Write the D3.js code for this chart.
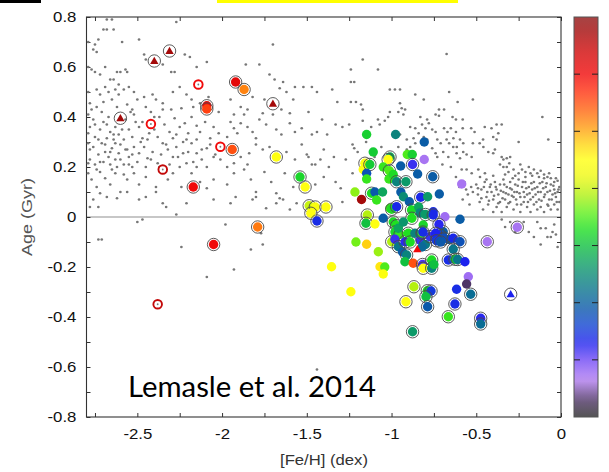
<!DOCTYPE html>
<html>
<head>
<meta charset="utf-8">
<script src="https://cdn.jsdelivr.net/npm/d3@7"></script>
<style>
  body { margin: 0; background: #fff; }
  svg { display: block; }
</style>
</head>
<body>
<svg id="chart" width="609" height="472"></svg>
<script>
// Background field sample: [Fe/H], age
const fieldPoints = [
  [-2.68,0.79],[-2.65,0.79],[-2.27,0.78],[-2.70,0.75],[-2.68,0.75],[-2.64,0.75],[-2.49,0.71],[-2.79,0.70],[-2.59,0.70],[-2.73,0.71],
  [-2.75,0.69],[-2.76,0.67],[-2.74,0.66],[-2.46,0.65],[-2.45,0.63],[-1.86,0.61],[-2.35,0.61],[-1.78,0.61],[-2.79,0.60],[-2.69,0.60],
  [-2.15,0.60],[-2.09,0.62],[-2.77,0.59],[-2.75,0.58],[-2.62,0.58],[-2.60,0.58],[-2.57,0.59],[-2.56,0.58],[-2.30,0.58],[-2.28,0.58],
  [-2.22,0.65],[-2.19,0.64],[-1.70,0.69],[-1.72,0.57],[-1.69,0.55],[-1.64,0.54],[-1.57,0.52],[-2.72,0.57],[-2.66,0.55],[-2.64,0.55],[-2.61,0.53],
  [-2.79,0.50],[-2.74,0.51],[-2.72,0.49],[-2.69,0.52],[-2.67,0.50],[-2.63,0.51],[-2.61,0.49],[-2.58,0.51],[-2.55,0.52],[-2.52,0.50],
  [-2.50,0.47],[-2.46,0.48],[-2.41,0.49],[-2.39,0.47],[-2.35,0.455],[-2.29,0.50],[-2.25,0.52],[-2.21,0.49],[-2.18,0.47],[-2.13,0.455],
  [-2.08,0.48],[-1.95,0.47],[-1.89,0.44],[-1.85,0.43],[-1.82,0.48],[-1.75,0.47],[-1.66,0.515],[-1.62,0.50],[-1.58,0.47],[-2.78,0.455],
  [-2.74,0.44],[-2.70,0.46],[-2.65,0.47],[-2.56,0.45],[-2.53,0.43],[-2.45,0.44],[-2.42,0.42],[-2.35,0.43],[-2.30,0.43],[-2.24,0.435],
  [-2.17,0.44],[-2.10,0.43],[-2.02,0.42],[-1.93,0.41],[-1.87,0.41],[-1.76,0.415],[-1.70,0.41],[-1.65,0.43],[-1.60,0.415],
  [-2.79,0.41],[-2.78,0.36],[-2.76,0.39],[-2.72,0.35],[-2.70,0.38],[-2.67,0.40],[-2.66,0.34],[-2.63,0.36],[-2.61,0.33],[-2.57,0.39],
  [-2.55,0.35],[-2.53,0.32],[-2.52,0.41],[-2.49,0.36],[-2.47,0.38],[-2.43,0.335],[-2.40,0.35],[-2.37,0.40],[-2.34,0.37],[-2.31,0.34],
  [-2.28,0.395],[-2.25,0.36],[-2.22,0.375],[-2.20,0.335],[-2.18,0.40],[-2.15,0.365],[-2.13,0.34],[-2.05,0.36],[-2.02,0.335],[-1.95,0.38],
  [-1.93,0.355],[-1.91,0.335],[-1.89,0.375],[-1.85,0.36],[-1.82,0.34],[-1.78,0.39],[-1.74,0.37],[-1.68,0.35],[-1.65,0.33],[-1.60,0.375],
  [-1.57,0.34],[-2.79,0.335],[-2.75,0.32],[-2.68,0.315],[-2.64,0.31],[-2.58,0.31],[-2.47,0.315],[-2.29,0.315],[-2.21,0.31],[-2.07,0.315],
  [-1.97,0.32],[-1.80,0.315],
  [-2.79,0.295],[-2.78,0.27],[-2.76,0.28],[-2.73,0.25],[-2.71,0.295],[-2.69,0.26],[-2.67,0.24],[-2.65,0.275],[-2.63,0.295],[-2.61,0.255],
  [-2.60,0.23],[-2.57,0.27],[-2.55,0.24],[-2.52,0.28],[-2.50,0.22],[-2.49,0.255],[-2.46,0.28],[-2.44,0.235],[-2.41,0.26],[-2.38,0.215],
  [-2.35,0.295],[-2.32,0.27],[-2.29,0.24],[-2.27,0.28],[-2.23,0.255],[-2.21,0.215],[-2.18,0.295],[-2.15,0.255],[-2.12,0.23],[-2.09,0.275],
  [-2.05,0.24],[-2.01,0.23],[-1.93,0.215],[-1.89,0.24],[-1.84,0.255],[-1.80,0.29],[-1.76,0.27],[-1.72,0.28],[-1.66,0.24],[-1.62,0.26],
  [-1.57,0.23],[-2.79,0.215],[-2.75,0.21],[-2.72,0.22],[-2.66,0.21],[-2.62,0.20],[-2.58,0.21],[-2.53,0.20],[-2.45,0.20],[-2.37,0.20],
  [-2.25,0.20],[-2.15,0.20],[-2.09,0.20],[-1.97,0.20],[-1.85,0.21],
  [-2.79,0.175],[-2.77,0.15],[-2.74,0.12],[-2.72,0.18],[-2.69,0.155],[-2.66,0.13],[-2.63,0.175],[-2.60,0.10],[-2.56,0.15],[-2.52,0.175],
  [-2.49,0.13],[-2.45,0.16],[-2.39,0.12],[-2.32,0.15],[-2.29,0.175],[-2.24,0.12],[-2.18,0.175],[-2.13,0.14],[-2.05,0.15],[-1.97,0.13],
  [-1.93,0.175],[-1.87,0.19],[-1.83,0.15],[-1.80,0.10],[-1.75,0.18],[-1.71,0.14],[-1.68,0.095],[-1.63,0.175],[-1.58,0.12],[-2.72,0.095],
  [-2.56,0.10],[-2.68,0.08],[-2.39,0.10],[-2.35,0.055],[-2.33,0.04],[-2.09,0.115],[-2.05,0.07],[-1.82,0.07],[-1.68,0.055],[-1.66,0.075],
  [-2.78,0.04],[-2.76,0.07],[-2.73,0.04],[-2.62,0.075],[-2.49,0.07],[-2.45,0.08],[-2.27,0.01],[-2.21,0.055],[-1.95,0.055],[-1.92,0.08],
  [-1.80,0.08],[-1.74,0.035],[-1.64,0.07],[-1.60,0.03],[-1.56,0.055],
  [-2.77,0.43],[-2.75,0.37],[-2.73,0.31],[-2.71,0.42],[-2.69,0.29],[-2.68,0.37],[-2.66,0.26],[-2.64,0.33],[-2.62,0.44],[-2.60,0.29],
  [-2.59,0.35],[-2.56,0.27],[-2.54,0.42],[-2.53,0.25],[-2.51,0.38],[-2.48,0.30],[-2.78,0.23],[-2.74,0.19],[-2.70,0.22],[-2.65,0.19],
  [-2.63,0.23],[-2.58,0.17],[-2.55,0.21],[-2.44,0.31],[-2.42,0.23],[-2.40,0.40],[-2.38,0.32],[-2.36,0.25],[-2.33,0.29],[-2.31,0.21],
  [-2.27,0.33],[-2.26,0.24],[-2.23,0.30],[-2.20,0.26],[-2.17,0.22],[-2.15,0.31],[-2.12,0.27],[-2.10,0.38],[-2.07,0.29],[-2.04,0.25],
  [-2.50,-0.02],[-2.47,-0.01],[-1.98,-0.03],[-2.73,-0.09],[-2.71,-0.09],[-2.24,-0.12],[-1.83,-0.13],[-1.76,-0.11],[-1.93,-0.21],[-2.09,-0.24],
  [-1.77,-0.065],[-1.44,-0.61],
  [-0.675,0.652],[-1.17,0.63],[-1.24,0.59],[-1.08,0.59],[-1.24,0.54],[-1.22,0.54],[-1.52,0.52],[-1.47,0.52],[-1.44,0.50],[-1.35,0.51],
  [-1.01,0.51],[-0.98,0.51],[-0.95,0.51],[-0.66,0.50],[-0.86,0.49],[-1.32,0.46],[-1.24,0.46],[-1.21,0.46],[-1.18,0.45],[-0.95,0.455],
  [-0.94,0.435],[-0.81,0.47],[-0.52,0.47],[-0.61,0.46],[-0.72,0.43],[-0.69,0.43],[-1.49,0.42],[-1.01,0.42],[-0.96,0.42],[-0.92,0.43],
  [-0.93,0.41],[-1.17,0.43],[-0.74,0.41],[-0.72,0.405],[-0.64,0.40],[-0.62,0.39],[-0.58,0.39],[-0.83,0.40],[-0.79,0.39],[-0.11,0.40],
  [-1.02,0.40],[-1.04,0.385],[-1.08,0.39],[-1.41,0.39],[-1.17,0.385],[-1.33,0.37],[-1.29,0.36],[-1.25,0.37],[-1.12,0.36],[-1.07,0.37],
  [-0.89,0.36],[-0.86,0.355],[-0.82,0.37],[-0.80,0.355],[-0.76,0.35],[-0.74,0.34],[-0.78,0.375],[-0.69,0.355],[-0.67,0.34],[-0.65,0.355],
  [-0.62,0.34],[-0.58,0.355],[-0.53,0.355],[-0.51,0.34],[-0.45,0.36],[-0.41,0.355],[-0.38,0.37],[-0.35,0.37],[-1.53,0.355],[-1.47,0.33],
  [-1.44,0.34],[-1.38,0.33],[-0.95,0.33],[-0.91,0.31],[-0.87,0.315],[-0.86,0.295],[-0.84,0.335],[-0.81,0.32],[-0.79,0.31],
  [-0.73,0.31],[-0.71,0.295],[-0.675,0.31],[-0.66,0.295],[-0.635,0.315],[-0.615,0.28],[-0.596,0.31],[-0.577,0.295],[-0.52,0.295],[-0.48,0.295],
  [-0.46,0.31],[-0.40,0.32],[-0.38,0.31],[-0.37,0.335],[-0.25,0.30],[-0.075,0.31],[-1.23,0.29],[-1.22,0.275],[-0.96,0.28],[-0.91,0.27],
  [-0.89,0.28],[-0.86,0.25],[-0.76,0.275],[-0.74,0.255],[-0.73,0.24],[-0.695,0.26],[-0.665,0.24],[-0.636,0.28],[-0.616,0.255],[-0.596,0.235],
  [-0.577,0.26],[-0.557,0.25],[-0.527,0.24],[-0.458,0.28],[-0.429,0.26],[-0.40,0.255],[-0.39,0.27],[-0.35,0.24],[-0.34,0.23],[-0.32,0.235],
  [-0.30,0.24],[-0.305,0.215],[-1.34,0.24],[-1.42,0.23],[-1.49,0.24],[-1.47,0.21],[-1.45,0.21],[-0.586,0.19],[-0.557,0.19],[-0.527,0.175],
  [-0.488,0.19],[-0.449,0.175],[-0.478,0.16],
  [-0.36,0.21],[-0.34,0.20],[-0.32,0.20],[-0.31,0.18],[-0.28,0.19],[-0.25,0.175],[-0.24,0.21],[-0.23,0.19],[-0.21,0.18],[-0.19,0.20],
  [-0.18,0.175],[-0.16,0.19],[-0.14,0.175],[-0.12,0.185],[-0.10,0.17],[-0.08,0.16],[-0.07,0.175],[-0.04,0.14],[-0.02,0.145],[-0.01,0.12],
  [-1.30,0.115],[-1.29,0.06],[-1.23,0.175],
  [-0.50,0.13],[-0.49,0.09],[-0.48,0.06],[-0.47,0.11],[-0.46,0.03],[-0.45,0.14],[-0.44,0.08],[-0.43,0.05],[-0.42,0.12],[-0.41,0.10],
  [-0.40,0.02],[-0.40,0.07],[-0.39,0.14],[-0.38,0.04],[-0.38,0.11],[-0.37,0.09],[-0.36,0.06],[-0.36,0.13],[-0.35,0.02],[-0.34,0.10],
  [-0.34,0.15],[-0.33,0.07],[-0.32,0.04],[-0.32,0.12],[-0.31,0.09],[-0.30,0.14],[-0.30,0.06],[-0.29,0.11],[-0.28,0.03],[-0.28,0.08],
  [-0.27,0.13],[-0.26,0.10],[-0.26,0.05],[-0.25,0.15],[-0.24,0.08],[-0.24,0.02],[-0.23,0.12],[-0.22,0.06],[-0.22,0.10],[-0.21,0.14],
  [-0.20,0.04],[-0.20,0.09],[-0.19,0.12],[-0.18,0.07],[-0.18,0.02],[-0.17,0.11],[-0.16,0.05],[-0.16,0.14],[-0.15,0.09],[-0.14,0.03],
  [-0.14,0.12],[-0.13,0.07],[-0.12,0.10],[-0.12,0.04],[-0.11,0.14],[-0.10,0.08],[-0.10,0.02],[-0.09,0.12],[-0.08,0.05],[-0.08,0.10],
  [-0.07,0.07],[-0.06,0.13],[-0.06,0.03],[-0.05,0.09],[-0.04,0.11],[-0.04,0.05],[-0.03,0.08],[-0.02,0.10],[-0.02,0.03],[-0.01,0.06],
  [-0.53,0.12],[-0.55,0.09],[-0.57,0.14],[-0.54,0.05],[-0.58,0.07],
  [-0.49,0.115],[-0.47,0.075],[-0.455,0.12],[-0.435,0.10],[-0.425,0.065],[-0.415,0.13],[-0.395,0.085],[-0.385,0.12],[-0.37,0.055],[-0.355,0.105],
  [-0.345,0.075],[-0.335,0.13],[-0.325,0.095],[-0.31,0.055],[-0.30,0.115],[-0.29,0.085],[-0.285,0.155],[-0.275,0.10],[-0.265,0.07],[-0.255,0.125],
  [-0.245,0.095],[-0.235,0.05],[-0.225,0.14],[-0.215,0.08],[-0.205,0.115],[-0.195,0.06],[-0.185,0.095],[-0.175,0.135],[-0.165,0.08],[-0.155,0.115],
  [-0.145,0.06],[-0.135,0.10],[-0.125,0.135],[-0.115,0.065],[-0.105,0.115],[-0.095,0.09],[-0.085,0.135],[-0.075,0.045],[-0.065,0.105],[-0.055,0.07],
  [-0.045,0.125],[-0.035,0.095],[-0.025,0.06],[-0.015,0.11],[-0.03,0.155],[-0.06,0.155],[-0.10,0.155],[-0.13,0.16],[-0.17,0.165],[-0.21,0.16],
  [-0.27,0.165],[-0.33,0.17],[-0.40,0.165],[-0.44,0.15],[-0.52,0.10],[-0.56,0.11],[-0.60,0.12],[-0.62,0.16],[-0.65,0.20],[-0.70,0.21],
  [-0.35,-0.01],[-0.33,-0.04],[-0.27,-0.06],[-0.19,-0.06],[-0.16,-0.08],[-0.12,-0.045],[-0.09,-0.045],[-0.05,-0.06],[-0.03,-0.07],[-0.04,-0.03],
  [-0.12,-0.11],[-0.02,-0.12],[-0.08,-0.08],[-0.06,-0.08],[-0.22,-0.02],[-0.14,-0.02],[-0.30,-0.02],
  [-1.53,0.29],[-1.50,0.25],[-1.40,0.27],[-1.37,0.20],[-1.33,0.14],[-1.27,0.23],[-1.20,0.26],[-1.15,0.30],[-1.10,0.24],[-1.06,0.28],
  [-1.40,0.16],[-1.45,0.13]
];

// Filled circles: [Fe/H], age, colour-bar value, outlined (1) or plain (0)
const circlePoints = [
  [-1.92,0.54,12.3,1],[-1.87,0.51,10.4,1],[-2.09,0.445,12.2,1],[-2.09,0.432,11.2,1],[-1.94,0.27,11.0,1],[-2.17,0.12,12.0,1],
  [-1.68,0.24,9.0,1],[-1.79,-0.04,10.5,1],[-2.05,-0.11,12.0,1],[-1.54,0.16,6.4,1],[-1.51,0.12,9.0,1],[-1.486,0.045,8.0,1],
  [-1.45,0.04,8.8,1],[-1.387,0.04,9.0,1],[-1.476,0.015,9.0,1],[-1.44,-0.016,2.8,1],
  [-1.147,0.33,6.3,0],[-0.976,0.33,4.8,0],[-0.807,0.30,3.9,0],[-1.108,0.26,6.2,0],[-1.009,0.24,5.6,1],[-1.02,0.23,9.0,1],
  [-0.907,0.25,7.0,0],[-0.878,0.25,6.3,0],[-0.807,0.23,1.4,0],[-0.876,0.21,2.4,1],[-1.157,0.215,9.0,1],[-1.167,0.19,9.0,0],
  [-1.128,0.21,6.2,1],[-1.147,0.175,3.6,0],[-1.147,0.152,6.8,0],[-1.049,0.20,6.8,0],[-1.013,0.185,7.0,1],[-1.015,0.152,6.8,0],
  [-0.99,0.17,6.5,0],[-0.946,0.204,3.9,0],[-0.97,0.141,4.8,1],[-0.915,0.141,5.3,1],[-0.846,0.172,3.9,0],[-0.757,0.161,3.9,1],
  [-0.945,0.10,3.9,0],[-1.216,0.10,7.5,0],[-1.177,0.07,13.5,0],[-1.118,0.095,6.5,1],[-1.098,0.10,3.8,0],[-1.088,0.068,6.8,0],
  [-1.053,0.10,5.5,0],[-0.93,0.081,5.0,0],[-0.895,0.061,3.9,0],[-0.828,0.079,2.7,1],[-0.787,0.081,5.3,0],[-0.718,0.092,3.9,0],
  [-0.586,0.132,1.4,0],[-0.596,-0.009,3.9,0],[-0.258,-0.041,1.4,1],[-0.754,0.021,2.8,0],[-0.685,0.001,1.5,0],
  [-1.009,0.035,6.8,0],[-0.999,0.031,6.5,1],[-0.97,0.041,2.7,1],[-1.143,0.008,7.8,1],[-1.151,-0.025,6.0,1],[-1.098,-0.028,9.0,0],
  [-1.049,-0.005,3.9,0],[-0.882,0.028,6.5,1],[-0.84,0.04,5.5,0],[-0.832,0.016,4.8,0],[-0.80,0.01,5.3,1],[-0.88,-0.005,6.6,1],
  [-0.99,-0.02,6.5,1],[-0.97,-0.035,6.6,1],[-0.98,-0.06,6.4,1],[-0.95,-0.07,6.8,1],[-0.96,-0.045,5.5,0],[-0.93,-0.02,5.2,0],
  [-0.999,-0.099,7.8,1],[-0.98,-0.089,2.4,0],[-0.96,-0.119,4.5,1],[-0.935,-0.14,3.9,0],[-0.911,-0.152,4.8,1],[-0.921,-0.179,6.0,0],
  [-0.92,-0.099,2.5,1],[-0.872,-0.185,11.0,0],[-0.832,-0.092,2.4,0],[-0.817,-0.19,2.3,1],[-0.813,-0.205,9.0,1],
  [-0.763,-0.172,6.5,1],[-0.763,-0.205,4.8,1],[-0.75,-0.19,6.0,0],[-0.901,-0.065,6.6,1],[-0.89,-0.10,6.5,1],[-0.862,-0.065,4.8,0],
  [-0.813,-0.032,6.4,0],[-0.82,-0.065,6.8,1],[-0.80,-0.11,4.6,1],[-0.773,-0.079,2.4,1],[-0.695,-0.059,3.9,1],[-0.754,0.008,2.7,1],
  [-0.72,-0.03,2.5,1],[-0.714,-0.072,3.2,1],[-0.73,-0.085,3.0,1],[-0.70,-0.09,3.5,1],[-0.66,-0.09,3.9,0],[-0.74,-0.065,2.6,1],
  [-0.69,-0.085,3.5,1],[-0.735,-0.095,3.0,1],[-0.71,-0.10,3.8,1],[-0.815,-0.06,2.8,1],[-0.82,-0.12,4.2,0],
  [-0.636,-0.085,2.7,1],[-0.596,-0.099,3.6,1],[-0.636,-0.129,4.5,1],[-0.665,-0.172,2.8,1],[-0.626,-0.169,6.2,1],[-0.61,-0.17,4.5,1],
  [-0.567,-0.179,2.6,0],[-0.435,-0.099,1.4,1],[-0.547,-0.239,1.5,0],[-0.557,-0.268,0.6,0],[-0.616,-0.289,2.8,0],[-0.533,-0.309,4.3,1],
  [-0.626,-0.348,2.8,1],[-0.665,-0.399,6.8,1],[-0.474,-0.405,2.5,1],[-0.474,-0.428,4.3,1],[-0.868,-0.279,7.8,1],[-0.789,-0.295,6.5,1],
  [-0.767,-0.296,3.0,1],[-0.797,-0.319,6.0,1],[-0.787,-0.359,3.8,1],[-0.915,-0.339,9.0,1],[-0.876,-0.459,5.3,1],
  [-1.21,-0.10,7.3,0],[-1.147,-0.109,9.6,0],[-1.078,-0.139,7.6,0],[-1.068,-0.199,9.3,0],[-1.04,-0.20,7.0,0],[-1.049,-0.228,8.9,0],
  [-1.354,-0.199,9.0,0],[-1.24,-0.299,9.0,0]
];

// Open rings: [Fe/H], age, colour-bar value
const ringPoints = [
  [-2.14,0.53,12.0],[-2.42,0.372,12.0],[-2.35,0.19,13.0],[-2.01,0.281,12.0],[-2.38,-0.349,13.0]
];

// Triangles: [Fe/H], age, colour-bar value, outlined
const trianglePoints = [
  [-2.31,0.664,13.5,1],[-2.40,0.624,13.5,1],[-2.60,0.395,13.5,1],[-1.70,0.453,13.5,1],[-0.297,-0.309,2.6,1],[-0.848,-0.129,12.0,0]
];

const xTickValues = [-2.75,-2.5,-2.25,-2,-1.75,-1.5,-1.25,-1,-0.75,-0.5,-0.25,0];
const yTickValues = [-0.8,-0.7,-0.6,-0.5,-0.4,-0.3,-0.2,-0.1,0,0.1,0.2,0.3,0.4,0.5,0.6,0.7,0.8];
const barTickValues = [0,2,4,6,8,10,12,14];

// Colour map shared by markers and colour bar
const cmapStops = [0,0.6,1.3,2.0,2.6,3.2,3.8,4.6,5.3,6.0,6.6,7.2,7.8,8.4,9.0,9.6,10.2,10.8,11.4,12.0,12.8,13.5,14];
const cmapColors = ["#2a2a2a","#4e3466","#b27cf2","#6f48f5","#1c22ee","#1244d2","#0a58aa","#0a7a86","#0c9a68","#10c040",
  "#20e020","#66f01a","#b4f010","#eef810","#ffff10","#ffd010","#ff9410","#ff6010","#ff3010","#f00a0a","#d00808","#a40a0a","#901414"];

const svg = d3.select("#chart");
const plot = { left: 86.5, right: 561, top: 17, bottom: 417 };

const x = d3.scaleLinear().domain([-2.8, 0]).range([plot.left, plot.right]);
const y = d3.scaleLinear().domain([-0.8, 0.8]).range([plot.bottom, plot.top]);
const color = d3.scaleLinear().domain(cmapStops).range(cmapColors).interpolate(d3.interpolateRgb);

// header strips
svg.append("rect").attr("x", 0).attr("y", 0).attr("width", 41).attr("height", 3).attr("fill", "#000");
svg.append("rect").attr("x", 217).attr("y", 0).attr("width", 241).attr("height", 3).attr("fill", "#ffff00");

const fmt = v => String(+v.toFixed(2));
const labelEvery = (step) => v => Math.abs(v / step - Math.round(v / step)) < 1e-6 ? fmt(v) : "";

function styleAxis(g, showText) {
  g.selectAll(".tick line").attr("stroke", "#333").attr("stroke-width", 1);
  g.selectAll(".tick text")
    .attr("font-family", "'Liberation Sans', Arial, Helvetica, sans-serif")
    .attr("font-size", 15)
    .attr("fill", "#111")
    .attr("transform", "scale(1.12,1)");
  if (!showText) g.selectAll(".tick text").remove();
  g.select(".domain").remove();
}

// zero line
svg.append("line")
  .attr("x1", plot.left).attr("x2", plot.right)
  .attr("y1", y(0)).attr("y2", y(0))
  .attr("stroke", "#b4b4b4").attr("stroke-width", 1.6);

// axes (ticks pointing inward)
const gx = svg.append("g").attr("transform", `translate(0,${plot.bottom})`)
  .call(d3.axisBottom(x).tickValues(xTickValues).tickSize(-4).tickPadding(11).tickFormat(labelEvery(0.5)));
styleAxis(gx, true);
const gxTop = svg.append("g").attr("transform", `translate(0,${plot.top})`)
  .call(d3.axisTop(x).tickValues(xTickValues).tickSize(-4).tickFormat(""));
styleAxis(gxTop, false);
const gy = svg.append("g").attr("transform", `translate(${plot.left},0)`)
  .call(d3.axisLeft(y).tickValues(yTickValues).tickSize(-4).tickPadding(9).tickFormat(labelEvery(0.2)));
styleAxis(gy, true);
const gyRight = svg.append("g").attr("transform", `translate(${plot.right},0)`)
  .call(d3.axisRight(y).tickValues(yTickValues).tickSize(-4).tickFormat(""));
styleAxis(gyRight, false);
svg.append("rect")
  .attr("x", plot.left).attr("y", plot.top)
  .attr("width", plot.right - plot.left).attr("height", plot.bottom - plot.top)
  .attr("fill", "none").attr("stroke", "#333").attr("stroke-width", 1.1);

// axis titles
svg.append("text")
  .attr("x", 324).attr("y", 465)
  .attr("text-anchor", "middle")
  .attr("font-family", "'Liberation Sans', Arial, Helvetica, sans-serif")
  .attr("font-size", 15).attr("fill", "#333")
  .attr("textLength", 88).attr("lengthAdjust", "spacingAndGlyphs")
  .text("[Fe/H] (dex)");
svg.append("text")
  .attr("transform", "translate(32,217) rotate(-90)")
  .attr("text-anchor", "middle")
  .attr("font-family", "'Liberation Sans', Arial, Helvetica, sans-serif")
  .attr("font-size", 14).attr("fill", "#555")
  .attr("textLength", 78).attr("lengthAdjust", "spacingAndGlyphs")
  .text("Age (Gyr)");

// field sample
svg.append("g").selectAll("circle").data(fieldPoints).join("circle")
  .attr("cx", d => x(d[0])).attr("cy", d => y(d[1]))
  .attr("r", 1.35).attr("fill", "#777");

const RING = 6.2, DOT = 4.7;
const marks = svg.append("g");

// filled circles
circlePoints.forEach(d => {
  const cx = x(d[0]), cy = y(d[1]);
  marks.append("circle").attr("cx", cx).attr("cy", cy).attr("r", DOT).attr("fill", color(d[2]));
  if (d[3]) {
    marks.append("circle").attr("cx", cx).attr("cy", cy).attr("r", RING)
      .attr("fill", "none").attr("stroke", "#4a4a4a").attr("stroke-width", 0.9);
  }
});

// open rings with centre dot
ringPoints.forEach(d => {
  const cx = x(d[0]), cy = y(d[1]);
  marks.append("circle").attr("cx", cx).attr("cy", cy).attr("r", 4.3)
    .attr("fill", "#fff").attr("stroke", color(d[2])).attr("stroke-width", 1.9);
  marks.append("circle").attr("cx", cx).attr("cy", cy).attr("r", 0.9).attr("fill", "#777");
});

// triangles
const tri = d3.symbol().type(d3.symbolTriangle).size(30);
trianglePoints.forEach(d => {
  const cx = x(d[0]), cy = y(d[1]);
  marks.append("path").attr("d", tri()).attr("transform", `translate(${cx},${cy + 0.6})`).attr("fill", color(d[2]));
  if (d[3]) {
    marks.append("circle").attr("cx", cx).attr("cy", cy).attr("r", RING)
      .attr("fill", "none").attr("stroke", "#4a4a4a").attr("stroke-width", 0.9);
  }
});

// annotation
svg.append("text")
  .attr("x", 128).attr("y", 397)
  .attr("font-family", "Lato, 'Open Sans', sans-serif")
  .attr("font-size", 28).attr("fill", "#000")
  .attr("textLength", 248).attr("lengthAdjust", "spacingAndGlyphs")
  .text("Lemasle et al. 2014");

// colour bar
const bar = { x: 574, w: 24 };
const cb = d3.scaleLinear().domain([0, 14]).range([plot.bottom, plot.top]);
const grad = svg.append("defs").append("linearGradient")
  .attr("id", "cbar").attr("x1", 0).attr("y1", 1).attr("x2", 0).attr("y2", 0);
d3.range(0, 14.01, 0.25).forEach(v => {
  grad.append("stop").attr("offset", v / 14).attr("stop-color", color(v));
});
svg.append("rect")
  .attr("x", bar.x).attr("y", plot.top).attr("width", bar.w).attr("height", plot.bottom - plot.top)
  .attr("fill", "url(#cbar)").attr("fill-opacity", 0.8);
svg.append("rect")
  .attr("x", bar.x).attr("y", plot.top).attr("width", bar.w).attr("height", plot.bottom - plot.top)
  .attr("fill", "none").attr("stroke", "#555").attr("stroke-width", 1);
const gcb = svg.append("g").attr("transform", `translate(${bar.x + bar.w},0)`)
  .call(d3.axisRight(cb).tickValues(barTickValues).tickSize(0).tickPadding(11).tickFormat(fmt));
gcb.select(".domain").remove();
gcb.selectAll(".tick text")
  .attr("font-family", "'Liberation Sans', Arial, sans-serif")
  .attr("font-size", 16).attr("fill", "#8a4a1e");
barTickValues.filter(v => v > 0 && v < 14).forEach(v => {
  svg.append("line").attr("x1", bar.x).attr("x2", bar.x + 6).attr("y1", cb(v)).attr("y2", cb(v))
    .attr("stroke", "#222").attr("stroke-width", 1);
  svg.append("line").attr("x1", bar.x + bar.w - 6).attr("x2", bar.x + bar.w).attr("y1", cb(v)).attr("y2", cb(v))
    .attr("stroke", "#222").attr("stroke-width", 1);
});
</script>
</body>
</html>
